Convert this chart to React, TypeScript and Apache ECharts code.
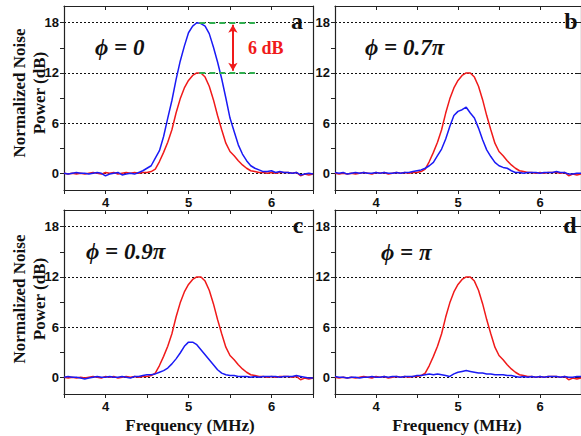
import React, { useEffect, useRef } from "react";
import * as echarts from "echarts";

// Frequency axis (MHz), sample points
const freq = [
  3.5, 3.55, 3.6, 3.65, 3.7, 3.75, 3.8, 3.85, 3.9, 3.95,
  4.0, 4.05, 4.1, 4.15, 4.2, 4.25, 4.3, 4.35, 4.4, 4.45,
  4.5, 4.55, 4.6, 4.65, 4.7, 4.75, 4.8, 4.85, 4.9, 4.95,
  5.0, 5.05, 5.1, 5.15, 5.2, 5.25, 5.3, 5.35, 5.4, 5.45,
  5.5, 5.55, 5.6, 5.65, 5.7, 5.75, 5.8, 5.85, 5.9, 5.95,
  6.0, 6.05, 6.1, 6.15, 6.2, 6.25, 6.3, 6.35, 6.4, 6.45,
  6.5,
];

// Reference (red) trace, same in all panels (dB)
const redRef = [
  0.0, -0.1, 0.0, -0.1, 0.0, -0.1, 0.0, 0.1, 0.0, -0.1,
  0.1, 0.0, 0.1, -0.1, 0.0, 0.1, 0.0, 0.1, 0.0, 0.1,
  0.1, 0.2, 0.5, 1.4, 2.5, 3.7, 5.2, 7.2, 8.9, 10.2,
  11.1, 11.7, 12.0, 12.0, 11.5, 10.4, 8.8, 6.9, 5.2, 3.6,
  2.6, 2.1, 1.5, 1.0, 0.6, 0.3, 0.2, 0.1, 0.1, 0.0,
  0.1, 0.0, 0.1, 0.1, 0.1, 0.0, 0.1, -0.3, -0.1, -0.2,
  -0.1,
];

// Blue traces for phi = 0, 0.7pi, 0.9pi, pi
const blueA = [
  0.0, -0.1, 0.0, 0.1, 0.0, 0.0, -0.1, 0.0, 0.1, 0.0,
  -0.3, -0.1, 0.0, 0.1, -0.2, -0.1, 0.0, -0.1, 0.1, 0.3,
  0.6, 0.9, 1.8, 2.7, 4.4, 6.6, 8.7, 11.2, 13.4, 15.2,
  16.8, 17.6, 18.0, 17.9, 17.6, 16.7, 15.1, 13.3, 11.3, 9.0,
  6.6, 5.0, 3.4, 2.3, 1.5, 0.9, 0.6, 0.4, 0.2, 0.2,
  0.3, 0.1, 0.2, 0.1, 0.1, 0.0, 0.1, -0.2, -0.1, 0.0,
  -0.1,
];
const blueB = [
  0.1, 0.0, 0.1, -0.1, 0.0, 0.1, 0.0, 0.1, 0.0, 0.0,
  0.1, 0.0, 0.1, 0.0, 0.0, 0.1, 0.0, 0.1, 0.1, 0.2,
  0.3, 0.4, 0.6, 0.9, 1.3, 2.1, 2.9, 4.1, 5.6, 6.9,
  7.4, 7.6, 7.9, 7.2, 6.6, 5.4, 4.0, 2.8, 2.0, 1.3,
  0.9, 0.7, 0.6, 0.3, 0.1, 0.1, 0.0, 0.1, 0.1, 0.1,
  0.0, 0.1, 0.1, 0.1, 0.2, 0.1, 0.1, -0.1, -0.1, 0.0,
  0.0,
];
const blueC = [
  0.0, 0.1, 0.0, 0.0, -0.1, -0.2, -0.1, 0.0, 0.1, 0.0,
  0.0, 0.1, 0.0, 0.0, 0.1, 0.0, -0.1, 0.1, 0.1, 0.2,
  0.3, 0.3, 0.4, 0.6, 0.8, 1.1, 1.6, 2.2, 2.9, 3.7,
  4.2, 4.2, 3.9, 3.3, 2.7, 2.1, 1.5, 0.9, 0.5, 0.3,
  0.2, 0.2, 0.1, 0.1, 0.1, 0.0, 0.1, 0.0, 0.1, 0.1,
  0.1, 0.1, 0.0, 0.1, 0.1, 0.1, 0.2, 0.1, 0.0, -0.1,
  -0.1,
];
const blueD = [
  0.1, 0.0, 0.0, -0.1, 0.0, 0.0, -0.1, 0.0, 0.0, 0.1,
  0.0, 0.0, 0.1, 0.0, 0.1, 0.1, 0.0, 0.1, 0.1, 0.1,
  0.2, 0.2, 0.3, 0.4, 0.3, 0.4, 0.3, 0.2, 0.1, 0.4,
  0.6, 0.7, 0.8, 0.7, 0.6, 0.5, 0.5, 0.4, 0.4, 0.3,
  0.3, 0.3, 0.2, 0.2, 0.1, 0.0, 0.1, 0.0, 0.1, 0.0,
  0.1, 0.0, 0.1, 0.1, 0.1, 0.0, 0.1, 0.0, 0.0, 0.1,
  0.1,
];

const blueSeries = [blueA, blueB, blueC, blueD];
const panelLetters = ["a", "b", "c", "d"];
const phiLabels = ["\u03D5 = 0", "\u03D5 = 0.7\u03C0", "\u03D5 = 0.9\u03C0", "\u03D5 = \u03C0"];
const xTickLabels = [4, 5, 6];
const yTickLabels = [0, 6, 12, 18];
const yTicksAll = [0, 3, 6, 9, 12, 15, 18];
const xTitle = "Frequency (MHz)";
const yTitle = "Normalized Noise\nPower (dB)";
const gapLabel = "6 dB";

const RED = "#f01a1a";
const BLUE = "#1a1af5";
const GREEN = "#2fae4e";
const AXIS = "#222";
const TICK_FONT = "Liberation Sans";
const SERIF = "Liberation Serif";

export default function App() {
  const ref = useRef<HTMLDivElement>(null);

  useEffect(() => {
    document.body.style.margin = "0";
    if (!ref.current) return;
    const chart = echarts.init(ref.current, undefined, { renderer: "svg" });

    const grids = [
      { left: 64, top: 6, width: 249, height: 184 },
      { left: 335, top: 6, width: 249, height: 184 },
      { left: 64, top: 210, width: 249, height: 184 },
      { left: 335, top: 210, width: 249, height: 184 },
    ];

    const xAxes: any[] = [];
    const yAxes: any[] = [];
    const series: any[] = [];

    grids.forEach((_, i) => {
      xAxes.push({
        type: "value",
        gridIndex: i,
        position: "bottom",
        min: 3.5,
        max: 6.5,
        interval: 0.5,
        axisLine: { onZero: false, lineStyle: { color: AXIS, width: 1.2 } },
        axisTick: { inside: false, length: 4, lineStyle: { color: AXIS, width: 1 } },
        axisLabel: {
          customValues: xTickLabels,
          margin: 6,
          color: "#111",
          fontFamily: TICK_FONT,
          fontWeight: "bold",
          fontSize: 13,
        },
        splitLine: { show: false },
      });
      xAxes.push({
        type: "value",
        gridIndex: i,
        position: "top",
        min: 3.5,
        max: 6.5,
        interval: 0.5,
        axisLine: { onZero: false, lineStyle: { color: AXIS, width: 1.2 } },
        axisTick: { inside: true, length: 4, lineStyle: { color: AXIS, width: 1 } },
        axisLabel: { show: false },
        splitLine: { show: false },
      });
      yAxes.push({
        type: "value",
        gridIndex: i,
        position: "left",
        min: -2,
        max: 20,
        axisLine: { onZero: false, show: true, lineStyle: { color: AXIS, width: 1.2 } },
        axisTick: { show: true, customValues: yTicksAll, inside: false, length: 4, lineStyle: { color: AXIS, width: 1 } },
        axisLabel: {
          customValues: yTickLabels,
          margin: 5,
          color: "#111",
          fontFamily: TICK_FONT,
          fontWeight: "bold",
          fontSize: 13,
        },
        splitLine: { show: false },
      });
      yAxes.push({
        type: "value",
        gridIndex: i,
        position: "right",
        min: -2,
        max: 20,
        axisLine: { onZero: false, show: true, lineStyle: { color: AXIS, width: 1.2 } },
        axisTick: { show: true, customValues: yTickLabels, inside: true, length: 4, lineStyle: { color: AXIS, width: 1 } },
        axisLabel: { show: false },
        splitLine: { show: true, lineStyle: { color: "#111", width: 1, type: [2, 2] } },
      });

      series.push({
        type: "line",
        xAxisIndex: 2 * i,
        yAxisIndex: 2 * i,
        data: freq.map((f, k) => [f, redRef[k]]),
        showSymbol: false,
        symbol: "none",
        lineStyle: { color: RED, width: 1.5 },
        itemStyle: { color: RED },
        z: 3,
      });
      const blue: any = {
        type: "line",
        xAxisIndex: 2 * i,
        yAxisIndex: 2 * i,
        data: freq.map((f, k) => [f, blueSeries[i][k]]),
        showSymbol: false,
        symbol: "none",
        lineStyle: { color: BLUE, width: 1.5 },
        itemStyle: { color: BLUE },
        z: 4,
      };
      if (i === 0) {
        blue.markLine = {
          silent: true,
          symbol: ["none", "none"],
          label: { show: false },
          data: [
            [
              { coord: [5.13, 18], lineStyle: { color: GREEN, width: 2, type: [6, 4] } },
              { coord: [5.8, 18] },
            ],
            [
              { coord: [5.13, 12], lineStyle: { color: GREEN, width: 2, type: [6, 4] } },
              { coord: [5.8, 12] },
            ],
            [
              { coord: [5.535, 17.75], symbol: "arrow", symbolSize: [7, 8], lineStyle: { color: RED, width: 2, type: "solid" } },
              { coord: [5.535, 12.25], symbol: "arrow", symbolSize: [7, 8] },
            ],
          ],
        };
      }
      series.push(blue);
    });

    const graphic: any[] = [];
    const textStyle = (text: string, size: number, opts: any = {}) => ({
      text,
      fontFamily: SERIF,
      fontSize: size,
      fontWeight: "bold",
      fill: "#111",
      textAlign: "center",
      textVerticalAlign: "middle",
      ...opts,
    });
    // y-axis titles
    [93, 299].forEach((cy) => {
      graphic.push({
        type: "text",
        x: 29,
        y: cy,
        rotation: Math.PI / 2,
        style: textStyle(yTitle, 17, { lineHeight: 20 }),
      });
    });
    // x-axis titles
    [190, 457].forEach((cx) => {
      graphic.push({
        type: "text",
        x: cx,
        y: 425,
        style: textStyle(xTitle, 17),
      });
    });
    // panel letters
    const letterPos = [
      [297, 21],
      [571, 21],
      [298, 225],
      [570, 225],
    ];
    letterPos.forEach((p, i) => {
      graphic.push({
        type: "text",
        x: p[0],
        y: p[1],
        z: 10,
        style: textStyle(panelLetters[i], 24),
      });
    });
    // phase labels
    const phiPos = [
      [95, 47],
      [365, 47],
      [86, 251],
      [381, 252],
    ];
    phiPos.forEach((p, i) => {
      graphic.push({
        type: "text",
        x: p[0],
        y: p[1],
        z: 10,
        style: textStyle(phiLabels[i], 23, { fontStyle: "italic", textAlign: "left" }),
      });
    });
    graphic.push({
      type: "text",
      x: 248,
      y: 48,
      z: 10,
      style: textStyle(gapLabel, 18, { fill: RED, textAlign: "left" }),
    });

    chart.setOption({
      animation: false,
      backgroundColor: "#fff",
      grid: grids.map((g) => ({ ...g, containLabel: false })),
      xAxis: xAxes,
      yAxis: yAxes,
      series,
      graphic,
    });

    return () => chart.dispose();
  }, []);

  return (
    <div
      ref={ref}
      style={{ position: "absolute", left: 0, top: 0, width: 581, height: 436 }}
    />
  );
}
